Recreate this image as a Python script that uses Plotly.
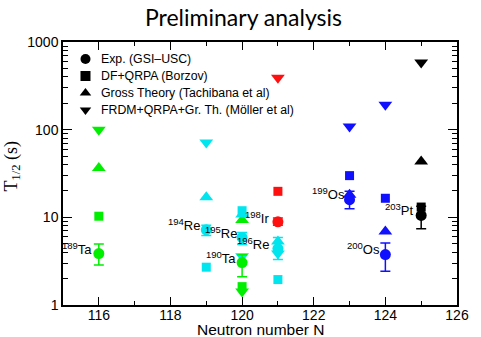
import math
import plotly.graph_objects as go

# ---- data ----
nuclei = ["189Ta", "194Re", "195Re", "190Ta", "196Re", "198Ir", "199Os", "200Os", "203Pt"]
label_mass = ["189", "194", "195", "190", "196", "198", "199", "200", "203"]
label_elem = ["Ta", "Re", "Re", "Ta", "Re", "Ir", "Os", "Os", "Pt"]
neutron_N = [116, 119, 120, 120, 121, 121, 123, 124, 125]
exp_t12 = [3.86, 7.2, 5.9, 3.05, 4.4, 8.9, 15.9, 3.76, 10.5]
exp_err_plus = [1.1, 0.9, 0.8, 0.7, 1.5, 0.9, 3.9, 1.35, 2.9]
exp_err_minus = [1.0, 1.0, 1.0, 0.95, 1.1, 0.8, 3.4, 1.33, 3.1]
df_qrpa = [10.3, 2.7, 11.9, 1.62, 1.95, 19.8, 29.9, 16.5, 13.1]
gross_theory = [36.5, 16.9, 10.8, 9.3, 5.3, None, 18.1, 6.9, 43.4]
frdm_qrpa = [100.0, 71.5, 3.6, 1.43, 3.86, 390.0, 109.0, 192.0, 582.0]
nucleus_colors = ["#00ee00", "#00e5ee", "#00e5ee", "#00ee00", "#00e5ee",
                  "#ff1010", "#1010ff", "#1010ff", "#000000"]

legend_names = ["Exp. (GSI\u2013USC)", "DF+QRPA (Borzov)",
                "Gross Theory (Tachibana et al)", "FRDM+QRPA+Gr. Th. (M\u00f6ller et al)"]
legend_symbols = ["circle", "square", "triangle-up", "triangle-down"]

# ---- layout geometry (pixels) ----
W, H = 481, 337
ML, MR, MT, MB = 63, 15, 42, 32
PW, PH = W - ML - MR, H - MT - MB

label_xshift = [-5, -4, -3, -4, -7, -7, -3, -3, -5]
label_yshift = [5, 5, 5, 5, 5, 4, 6, 6, 6]
draw_order = [3, 0, 1, 2, 4, 5, 6, 7, 8]

FONT = "Liberation Sans, Arial"

fig = go.Figure()

# theory markers per nucleus
for i in draw_order:
    c = nucleus_colors[i]
    fig.add_trace(go.Scatter(x=[neutron_N[i]], y=[frdm_qrpa[i]], mode="markers",
                             marker=dict(symbol="triangle-down", size=12, color=c),
                             showlegend=False, hoverinfo="skip"))
    if gross_theory[i] is not None:
        fig.add_trace(go.Scatter(x=[neutron_N[i]], y=[gross_theory[i]], mode="markers",
                                 marker=dict(symbol="triangle-up", size=12, color=c),
                                 showlegend=False, hoverinfo="skip"))
    fig.add_trace(go.Scatter(x=[neutron_N[i]], y=[df_qrpa[i]], mode="markers",
                             marker=dict(symbol="square", size=9, color=c),
                             showlegend=False, hoverinfo="skip"))

# experimental points with error bars
for i in draw_order:
    c = nucleus_colors[i]
    fig.add_trace(go.Scatter(x=[neutron_N[i]], y=[exp_t12[i]], mode="markers",
                             marker=dict(symbol="circle", size=11, color=c),
                             error_y=dict(type="data", symmetric=False,
                                          array=[exp_err_plus[i]], arrayminus=[exp_err_minus[i]],
                                          color=c, thickness=1.5, width=5),
                             showlegend=False, hoverinfo="skip"))

# manual legend (symbols on an overlay 0..1 axis, text as annotations)
leg_rows_px = [59, 76, 93, 110]
leg_sym_x = (86 - ML) / PW
leg_txt_x = (100 - ML) / PW
leg_y = [(H - MB - r) / PH for r in leg_rows_px]
fig.add_trace(go.Scatter(x=[leg_sym_x] * 4, y=leg_y, xaxis="x2", yaxis="y2", mode="markers",
                         marker=dict(symbol=legend_symbols, size=10, color="black"),
                         showlegend=False, hoverinfo="skip"))
for name, yy in zip(legend_names, leg_y):
    fig.add_annotation(xref="paper", yref="paper", x=leg_txt_x, y=yy, text=name,
                       showarrow=False, xanchor="left", yanchor="middle",
                       font=dict(family=FONT, size=12.3, color="black"))

# nucleus labels
for i in range(len(nuclei)):
    fig.add_annotation(x=neutron_N[i], y=math.log10(exp_t12[i]), yref="y", xref="x",
                       text="<sup><span style='font-size:9.5px'>" + label_mass[i] + "</span></sup>"
                            + label_elem[i],
                       showarrow=False, xanchor="right", yanchor="middle",
                       xshift=label_xshift[i], yshift=label_yshift[i],
                       font=dict(family=FONT, size=13, color="black"))

# y-axis title
fig.add_annotation(xref="paper", yref="paper", x=0, y=(H - MB - 166.5) / PH, xshift=-51,
                   xanchor="center", yanchor="middle",
                   text="T<sub>1/2</sub> (s)", textangle=-90, showarrow=False,
                   font=dict(family="Liberation Serif, Times New Roman", size=18, color="black"))

# x-axis title
fig.add_annotation(xref="paper", yref="paper", x=(265.8 - ML) / PW, y=0, yshift=-24,
                   xanchor="center", yanchor="middle", text="Neutron number N", showarrow=False,
                   font=dict(family=FONT, size=15.5, color="black"))

fig.update_layout(
    width=W, height=H,
    margin=dict(l=ML, r=MR, t=MT, b=MB),
    paper_bgcolor="white", plot_bgcolor="white",
    title=dict(text="Preliminary analysis", x=243.5 / W, xanchor="center", y=1 - 17.5 / H,
               yanchor="middle", xref="container", yref="container",
               font=dict(family="Lato", size=23, color="black")),
    showlegend=False,
    xaxis2=dict(overlaying="x", range=[0, 1], visible=False, fixedrange=True),
    yaxis2=dict(overlaying="y", range=[0, 1], visible=False, fixedrange=True),
    xaxis=dict(range=[115, 126], tick0=116, dtick=2, ticks="inside", ticklen=8,
               tickwidth=1.2, tickcolor="black", showline=True, linecolor="black",
               linewidth=1.5, mirror="allticks", showgrid=False, zeroline=False,
               ticklabelstandoff=-4,
               tickfont=dict(family=FONT, size=14, color="black"),
               minor=dict(ticks="inside", ticklen=4, dtick=1, tick0=115,
                          tickcolor="black", showgrid=False)),
    yaxis=dict(type="log", range=[0, 3], tickvals=[1, 10, 100, 1000],
               ticktext=["1", "10", "100", "1000"], ticks="inside", ticklen=9,
               tickwidth=1.2, tickcolor="black", showline=True, linecolor="black",
               linewidth=1.5, mirror="allticks", showgrid=False, zeroline=False,
               tickfont=dict(family=FONT, size=14, color="black"),
               minor=dict(ticks="inside", ticklen=5, dtick="D1",
                          tickcolor="black", showgrid=False)),
)

fig.write_html("out.html")
